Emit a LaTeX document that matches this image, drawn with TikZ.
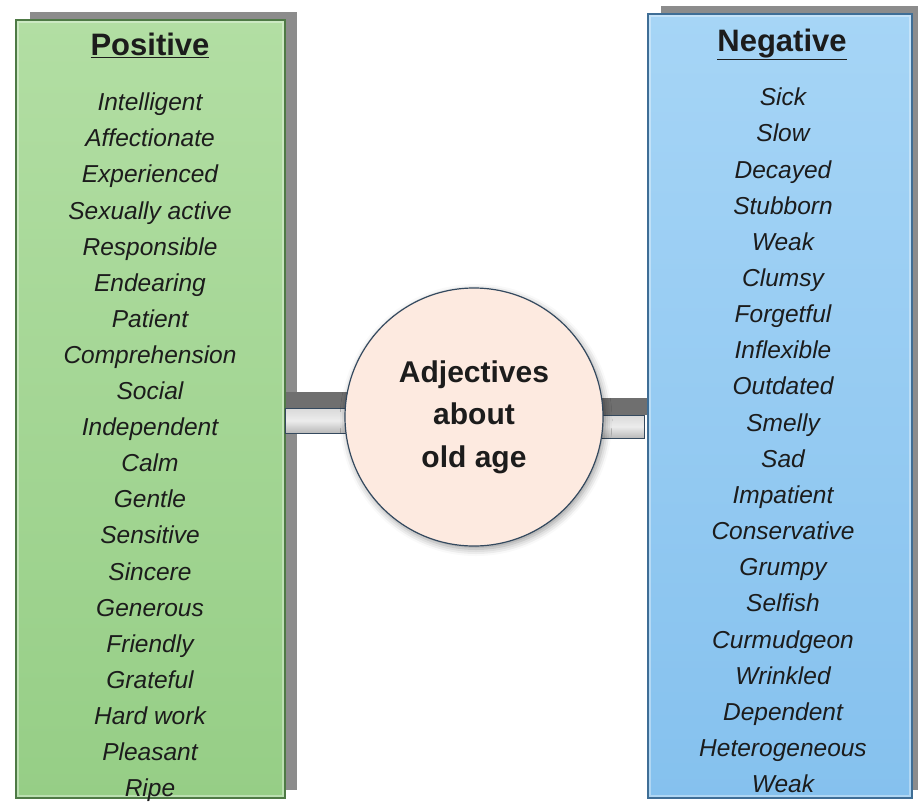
\documentclass[tikz,border=0pt]{standalone}
\usepackage{fontspec}
\setmainfont{Liberation Sans}
\usetikzlibrary{shadows.blur}
\definecolor{posfillA}{HTML}{B2DEA3}
\definecolor{posfillB}{HTML}{96CE86}
\definecolor{posedge}{HTML}{4E7A45}
\definecolor{negfillA}{HTML}{A6D5F6}
\definecolor{negfillB}{HTML}{85C1EE}
\definecolor{negedge}{HTML}{3F6E96}
\definecolor{boxshade}{HTML}{8C8C8C}
\definecolor{barshade}{HTML}{6F6F6F}
\definecolor{hubfill}{HTML}{FDEAE0}
\definecolor{hubedge}{HTML}{34495E}
\definecolor{ink}{HTML}{1C1C1C}
\begin{document}
\begin{tikzpicture}[x=1pt,y=-1pt,
  listbox/.style={rectangle, inner sep=0pt, line width=1.2pt},
  posbox/.style={listbox, draw=posedge, top color=posfillA, bottom color=posfillB},
  negbox/.style={listbox, draw=negedge, top color=negfillA, bottom color=negfillB},
  heading/.style={text=ink, font=\fontsize{31}{36}\selectfont\bfseries, inner sep=0pt,
    text height=23pt, text depth=6pt},
  item/.style={text=ink, font=\fontsize{24.5}{28}\selectfont\itshape, inner sep=0pt,
    text height=17.5pt, text depth=0pt},
  hub/.style={circle, draw=hubedge, line width=1.2pt, fill=hubfill, minimum size=258pt,
    align=center, text=ink, font=\fontsize{30}{42.5}\selectfont\bfseries,
    blur shadow={shadow xshift=2pt, shadow yshift=-3pt, shadow blur radius=7pt, shadow opacity=40}},
  barface/.style={draw=hubedge, line width=0.8pt, top color=gray!30, bottom color=gray!55, middle color=gray!15},
]
\useasboundingbox (0,0) rectangle (918,803);

% drop shadows behind the two lists
\fill[boxshade] (30,12) rectangle (297,790);
\fill[boxshade] (661,6) rectangle (918,790);

% the two lists
\node[posbox, minimum width=269pt, minimum height=778pt] (pos) at (150.5,409) {};
\node[negbox, minimum width=264pt, minimum height=784pt] (neg) at (780,406) {};
% soft bevel along the inner edge
\draw[white, opacity=0.35, line width=2pt] ([shift={(3,3)}]pos.north west) rectangle ([shift={(-3,-3)}]pos.south east);
\draw[white, opacity=0.35, line width=2pt] ([shift={(3,3)}]neg.north west) rectangle ([shift={(-3,-3)}]neg.south east);

% links between the lists and the hub
\coordinate (hubc) at (474,417);
\fill[barshade] (pos.east |- 0,392) rectangle (hubc |- 0,408);
\draw[barface] (pos.east |- 0,408) rectangle (hubc |- 0,433);
\fill[barshade] (hubc |- 0,398) rectangle (neg.west |- 0,415);
\draw[barface] (hubc |- 0,415) rectangle ([xshift=-3]neg.west |- 0,438);

% the hub
\node[hub] (hub) at (hubc) {Adjectives\\about\\old age};

% headings
\node[heading] (posh) at (150,47) {\underline{Positive}};
\node[heading] (negh) at (782,43) {\underline{Negative}};

% adjective lists
\foreach \w [count=\i] in {Intelligent, Affectionate, Experienced, Sexually active,
  Responsible, Endearing, Patient, Comprehension, Social, Independent, Calm, Gentle,
  Sensitive, Sincere, Generous, Friendly, Grateful, Hard work, Pleasant, Ripe}
  \node[item] (p\i) at (150, 102+36.1*\i-36.1) {\w};
\foreach \w [count=\i] in {Sick, Slow, Decayed, Stubborn, Weak, Clumsy, Forgetful,
  Inflexible, Outdated, Smelly, Sad, Impatient, Conservative, Grumpy, Selfish,
  Curmudgeon, Wrinkled, Dependent, Heterogeneous, Weak}
  \node[item] (n\i) at (783, 97+36.15*\i-36.15) {\w};
\end{tikzpicture}
\end{document}
